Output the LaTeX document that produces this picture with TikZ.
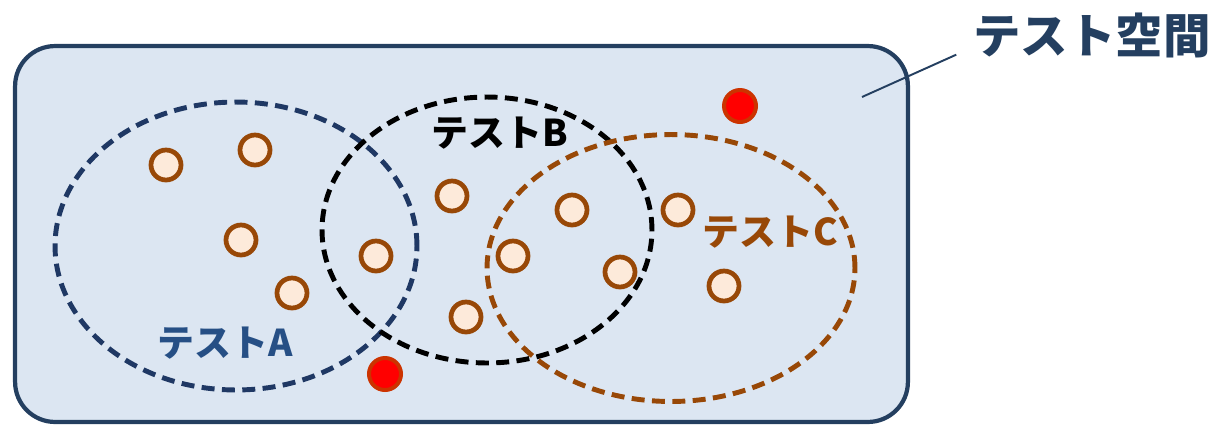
\documentclass[tikz,border=0pt]{standalone}
\usepackage{fontspec}
\newfontfamily\jpfont{Noto Sans CJK JP}
\usetikzlibrary{positioning,shapes.geometric}
\definecolor{spacefill}{HTML}{DCE6F2}
\definecolor{spaceedge}{HTML}{243F60}
\definecolor{setAcol}{HTML}{1F3864}
\definecolor{labAcol}{HTML}{264F85}
\definecolor{setCcol}{HTML}{984807}
\definecolor{ptfill}{HTML}{FDEADA}
\definecolor{ptedge}{HTML}{984807}
\definecolor{bugedge}{HTML}{CC3300}
\tikzset{font=\jpfont\bfseries}

\begin{document}
\begin{tikzpicture}[x=0.02cm, y=-0.02cm]
	\useasboundingbox (0,0) rectangle (1218,424);
	\begin{scope}
		\tikzstyle{every node}=[align=center, inner sep=1pt]
		\tikzstyle{testset}=[ellipse, inner sep=0pt, line width=2.8pt, dash pattern=on 7.4pt off 4.2pt]
		\tikzstyle{case}=[circle, draw=ptedge, fill=ptfill, line width=0.095cm, minimum size=0.6cm, inner sep=0pt]
		\tikzstyle{bug}=[circle, draw=bugedge, fill=red, line width=0.08cm, minimum size=0.64cm, inner sep=0pt]

		\node[draw=spaceedge, fill=spacefill, line width=2.4pt, rounded corners=0.8cm,
			minimum width=17.86cm, minimum height=7.52cm] (space) at (461.5,234) {};

		\node[testset, draw=setAcol, minimum width=7.24cm, minimum height=5.76cm] (setA) at (236,246) {};
		\node[testset, draw=black, minimum width=6.6cm, minimum height=5.32cm] (setB) at (487,230) {};
		\node[testset, draw=setCcol, minimum width=7.36cm, minimum height=5.34cm] (setC) at (671,268) {};

		\node[text=labAcol, font=\jpfont\bfseries\fontsize{21}{25}\selectfont] (labA) at (225,343) {テストA};
		\node[text=black, font=\jpfont\bfseries\fontsize{21}{25}\selectfont] (labB) at (500,133) {テストB};
		\node[text=setCcol, font=\jpfont\bfseries\fontsize{21}{25}\selectfont] (labC) at (770,232) {テストC};
		\node[text=spaceedge, font=\jpfont\bfseries\fontsize{27}{32}\selectfont] (labSpace) at (1092,35) {テスト空間};

		\node[case] (c1) at (166,165) {};
		\node[case] (c2) at (255,150) {};
		\node[case] (c3) at (241,240) {};
		\node[case] (c4) at (292,293) {};
		\node[case] (c5) at (376,256) {};
		\node[case] (c6) at (452,196) {};
		\node[case] (c7) at (466,317) {};
		\node[case] (c8) at (513,256) {};
		\node[case] (c9) at (572,210) {};
		\node[case] (c10) at (620,272) {};
		\node[case] (c11) at (678,210) {};
		\node[case] (c12) at (724,286) {};

		\node[bug] (b1) at (740,106) {};
		\node[bug] (b2) at (385,374) {};

		\coordinate (tip) at (862,97);
		\draw[spaceedge, line width=1.1pt] (tip) -- ([xshift=-0.3cm, yshift=0.1cm]labSpace.south west);
	\end{scope}
\end{tikzpicture}
\end{document}
